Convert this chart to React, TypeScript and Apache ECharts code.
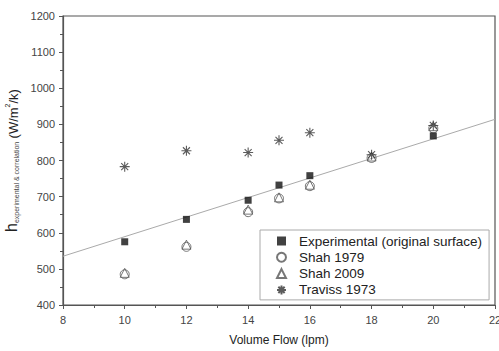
import React, { useEffect, useRef } from "react";
import * as echarts from "echarts";

const flowX = [10, 12, 14, 15, 16, 18, 20];
const experimentalX = [10, 12, 14, 15, 16, 20];
const experimental = [575, 637, 690, 732, 758, 868];
const shah1979 = [485, 561, 657, 695, 729, 807, 889];
const shah2009 = [489, 567, 664, 698, 733, 811, 895];
const traviss1973 = [783, 827, 822, 856, 877, 816, 897];
const fitX = [8, 22];
const fitY = [535, 914];

const pairs = (xs: number[], ys: number[]) => xs.map((x, i) => [x, ys[i]]);

const ASTERISK =
  "path://M5,0L5,10M0,5L10,5M1.5,1.5L8.5,8.5M1.5,8.5L8.5,1.5";

export default function App() {
  const ref = useRef<HTMLDivElement>(null);
  useEffect(() => {
    if (!ref.current) return;
    const chart = echarts.init(ref.current, undefined, { renderer: "svg" });
    const font = "Liberation Sans, Arial, sans-serif";
    const axisColor = "#555";
    chart.setOption({
      animation: false,
      backgroundColor: "#fff",
      textStyle: { fontFamily: font },
      grid: {
        left: 63,
        right: 4,
        top: 16,
        bottom: 46,
        containLabel: false,
        outerBoundsMode: "none",
        show: true,
        borderColor: axisColor,
        borderWidth: 1.2,
      },
      legend: {
        orient: "vertical",
        left: 260,
        top: 230,
        padding: [4, 7, 3, 16],
        itemGap: 2.3,
        itemWidth: 9,
        itemHeight: 9,
        borderColor: "#aaa",
        borderWidth: 1,
        backgroundColor: "#fff",
        textStyle: {
          fontSize: 13.5,
          color: "#222",
          fontFamily: font,
          lineHeight: 14,
          padding: [0, 0, 0, 8],
        },
        data: ["Experimental (original surface)", "Shah 1979", "Shah 2009", "Traviss 1973"],
      },
      xAxis: {
        type: "value",
        min: 8,
        max: 22,
        interval: 2,
        name: "Volume Flow (lpm)",
        nameLocation: "middle",
        nameGap: 29,
        nameTextStyle: { fontSize: 12, color: "#222", fontFamily: font },
        axisLine: { lineStyle: { color: axisColor, width: 1.2 } },
        axisTick: { show: true, inside: false, length: 4, lineStyle: { color: axisColor } },
        minorTick: { show: true, splitNumber: 2, length: 3, lineStyle: { color: axisColor } },
        axisLabel: { fontSize: 11, color: "#444", margin: 9, fontFamily: font },
        splitLine: { show: false },
      },
      yAxis: {
        type: "value",
        min: 400,
        max: 1200,
        interval: 100,
        name:
          "{h|h}{sub|experimental & correlation} {u|(W/m}{sup|2}{u|/k)}",
        nameLocation: "middle",
        nameRotate: 90,
        nameGap: 33,
        nameTextStyle: {
          color: "#222",
          fontFamily: font,
          rich: {
            h: { fontSize: 16, color: "#222", fontFamily: font, verticalAlign: "bottom" },
            sub: { fontSize: 7, color: "#444", fontFamily: font, verticalAlign: "bottom" },
            u: { fontSize: 13, color: "#222", fontFamily: font, verticalAlign: "bottom" },
            sup: { fontSize: 7, color: "#222", fontFamily: font, verticalAlign: "top" },
          },
        },
        axisLine: { show: true, lineStyle: { color: axisColor, width: 1.2 } },
        axisTick: { show: true, inside: false, length: 4, lineStyle: { color: axisColor } },
        minorTick: { show: true, splitNumber: 2, length: 3, lineStyle: { color: axisColor } },
        axisLabel: {
          fontSize: 11,
          color: "#444",
          margin: 8,
          fontFamily: font,
          formatter: (v: number) => String(v),
        },
        splitLine: { show: false },
      },
      series: [
        {
          type: "line",
          data: pairs(fitX, fitY),
          showSymbol: false,
          symbol: "none",
          lineStyle: { color: "#aaa", width: 1 },
          silent: true,
          z: 1,
        },
        {
          name: "Shah 1979",
          type: "scatter",
          data: pairs(flowX, shah1979),
          symbol: "circle",
          symbolSize: 9,
          itemStyle: { color: "transparent", borderColor: "#555", borderWidth: 1 },
        },
        {
          name: "Shah 2009",
          type: "scatter",
          data: pairs(flowX, shah2009),
          symbol: "triangle",
          symbolSize: 9,
          itemStyle: { color: "transparent", borderColor: "#555", borderWidth: 1 },
        },
        {
          name: "Traviss 1973",
          type: "scatter",
          data: pairs(flowX, traviss1973),
          symbol: ASTERISK,
          symbolSize: 10,
          itemStyle: { color: "transparent", borderColor: "#333", borderWidth: 1.1 },
        },
        {
          name: "Experimental (original surface)",
          type: "scatter",
          data: pairs(experimentalX, experimental),
          symbol: "rect",
          symbolSize: 7,
          itemStyle: { color: "#111" },
          z: 5,
        },
      ],
    });
    return () => chart.dispose();
  }, []);
  return <div ref={ref} style={{ width: 499, height: 351, position: "absolute", left: 0, top: 0 }} />;
}
